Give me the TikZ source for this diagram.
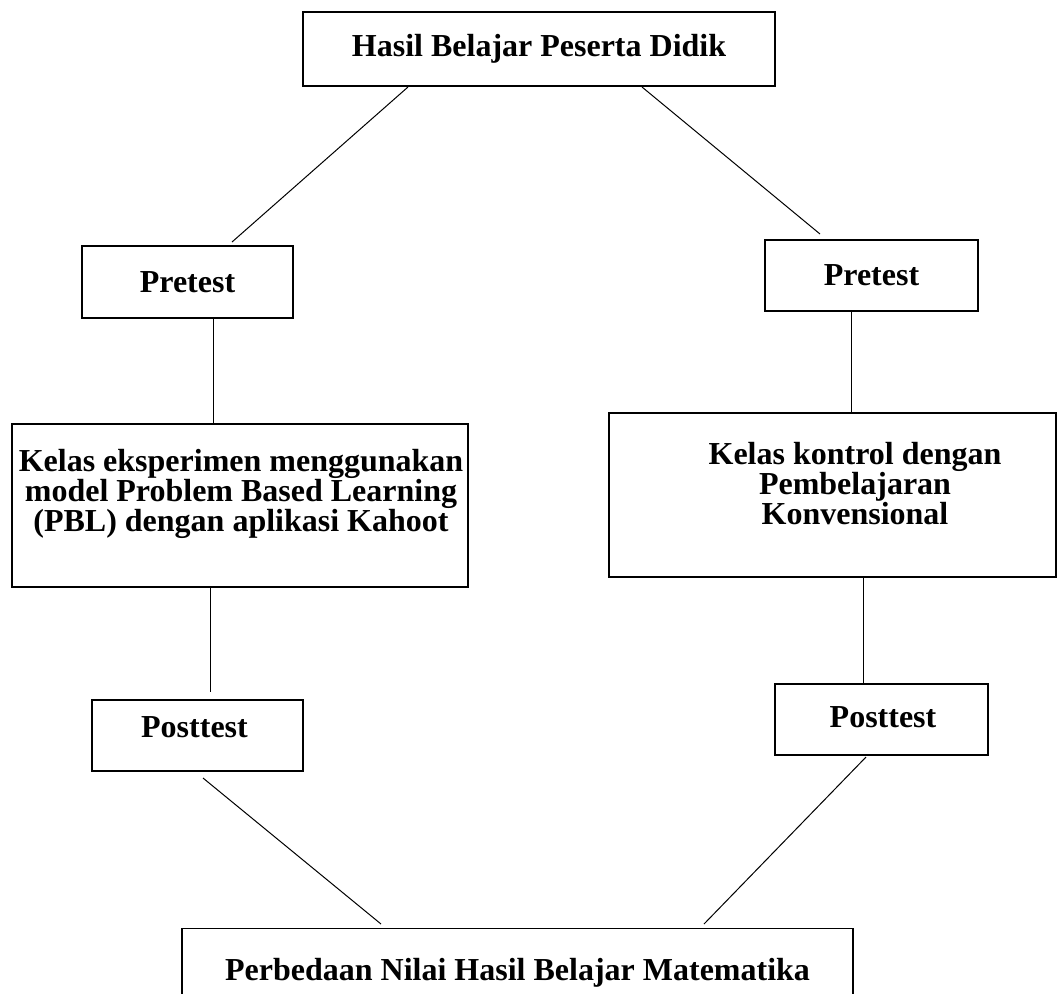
\documentclass[tikz,border=0pt]{standalone}
\usepackage{fontspec}
\setmainfont{Liberation Serif}
\usetikzlibrary{calc}
\AtBeginDocument{\lineskiplimit=-100pt\relax}

\begin{document}
\begin{tikzpicture}[
  x=0.5pt, y=-0.5pt,
  box/.style={rectangle, draw=black, line width=1pt, inner sep=0pt, font=\fontsize{16}{15}\selectfont\bfseries, align=center},
  lbl/.style={inner sep=0pt, font=\fontsize{16}{15}\selectfont\bfseries, align=center},
  garis/.style={line width=0.5pt}
]
  \useasboundingbox (0,0) rectangle (1058,993);
  \clip (0,0) rectangle (1058,993);

  \node[box, minimum width=236pt, minimum height=37pt] (hasil) at (539,49) {Hasil Belajar Peserta Didik};
  \node[box, minimum width=105.5pt, minimum height=36pt] (preA) at (187.5,282) {Pretest};
  \node[box, minimum width=106.5pt, minimum height=35.5pt] (preB) at (871.5,275.5) {Pretest};

  \node[box, minimum width=228pt, minimum height=81.5pt] (eksp) at (240,505.5) {};
  \node[lbl] (eksptxt) at (241,494) {Kelas eksperimen menggunakan\\model Problem Based Learning\\(PBL) dengan aplikasi Kahoot};
  \node[box, minimum width=223.5pt, minimum height=82pt] (kontrol) at (832.5,495) {};
  \node[lbl] (kontroltxt) at (855,483.5) {Kelas kontrol dengan\\Pembelajaran\\Konvensional};

  \node[box, minimum width=105.5pt, minimum height=35.5pt] (postA) at (197.5,735.5) {};
  \node[lbl] (postAtxt) at (194.5,727) {Posttest};
  \node[box, minimum width=106.5pt, minimum height=35.5pt] (postB) at (881.5,719.5) {};
  \node[lbl] (postBtxt) at (883,717) {Posttest};

  \node[box, line width=0.7pt, minimum width=335.5pt, minimum height=44pt, anchor=north] (beda) at (517.5,928) {Perbedaan Nilai Hasil Belajar Matematika};

  % garis penghubung
  \draw[garis] ($(hasil.south)+(-131,0)$) -- ($(preA.north)+(44.5,-3)$);
  \draw[garis] ($(hasil.south)+(103,0)$) -- ($(preB.north)+(-51.5,-5)$);
  \draw[garis] ($(preA.south)+(25.5,0)$) -- ($(eksp.north)+(-27,0)$);
  \draw[garis] ($(preB.south)+(-20.5,0)$) -- ($(kontrol.north)+(18.5,0)$);
  \draw[garis] ($(eksp.south)+(-30,0)$) -- ($(postA.north)+(12.5,-7)$);
  \draw[garis] ($(kontrol.south)+(30.5,0)$) -- ($(postB.north)+(-18.5,0)$);
  \draw[garis] ($(postA.south)+(5.5,6)$) -- ($(beda.north)+(-136.5,-4)$);
  \draw[garis] ($(postB.south)+(-15.5,1)$) -- ($(beda.north)+(186.5,-4)$);
\end{tikzpicture}
\end{document}
